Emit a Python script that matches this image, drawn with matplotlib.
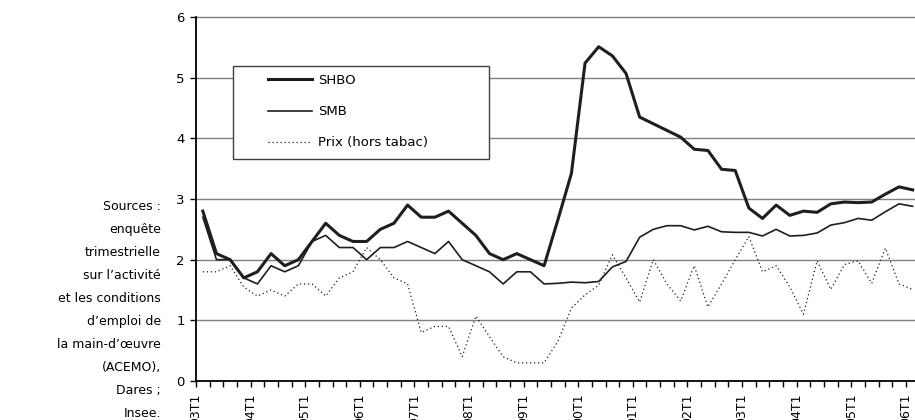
import matplotlib
matplotlib.use("Agg")
import matplotlib.pyplot as plt
from matplotlib.patches import Rectangle

# trimestres 1993T1 .. 2006T1
quarters = [f"{(93 + q // 4) % 100:02d}T{q % 4 + 1}" for q in range(53)]

shbo = [2.8, 2.1, 2.0, 1.7, 1.8, 2.1, 1.9, 2.0, 2.3, 2.6, 2.4, 2.3, 2.3,
        2.5, 2.6, 2.9, 2.7, 2.7, 2.8, 2.6, 2.4, 2.1, 2.0, 2.1, 2.0, 1.9,
        2.65, 3.42, 5.24, 5.51, 5.36, 5.07, 4.35, 4.24, 4.13, 4.02, 3.82,
        3.80, 3.49, 3.47, 2.85, 2.68, 2.90, 2.73, 2.80, 2.78, 2.92, 2.95,
        2.94, 2.95, 3.08, 3.20, 3.15]

smb = [2.7, 2.0, 2.0, 1.7, 1.6, 1.9, 1.8, 1.9, 2.3, 2.4, 2.2, 2.2, 2.0,
       2.2, 2.2, 2.3, 2.2, 2.1, 2.3, 2.0, 1.9, 1.8, 1.6, 1.8, 1.8, 1.6,
       1.61, 1.63, 1.62, 1.64, 1.88, 1.97, 2.37, 2.50, 2.56, 2.56, 2.49,
       2.55, 2.46, 2.45, 2.45, 2.39, 2.50, 2.39, 2.40, 2.44, 2.57, 2.61,
       2.68, 2.65, 2.79, 2.92, 2.88]

prix = [1.8, 1.8, 1.9, 1.55, 1.4, 1.5, 1.4, 1.6, 1.6, 1.4, 1.7, 1.8, 2.2,
        2.0, 1.7, 1.6, 0.8, 0.9, 0.9, 0.4, 1.07, 0.73, 0.4, 0.3, 0.3, 0.3,
        0.65, 1.2, 1.42, 1.58, 2.08, 1.7, 1.3, 2.0, 1.6, 1.32, 1.9, 1.22,
        1.6, 2.0, 2.38, 1.8, 1.9, 1.55, 1.1, 1.98, 1.51, 1.92, 1.98, 1.61,
        2.19, 1.6, 1.51]

source_text = ("Sources :\nenquête\ntrimestrielle\nsur l’activité\n"
               "et les conditions\nd’emploi de\nla main-d’œuvre\n(ACEMO),\n"
               "Dares ;\nInsee.")

W, H = 915, 420
fig = plt.figure(figsize=(W / 100, H / 100), dpi=100)
plt.rcParams["font.family"] = "DejaVu Sans"

x0, x1, ytop, ybot = 196, 919.5, 17, 381
ax = fig.add_axes([x0 / W, 1 - ybot / H, (x1 - x0) / W, (ybot - ytop) / H])

x = list(range(len(quarters)))
ax.plot(x, shbo, color="#1e1e1e", lw=2.2, label="SHBO", zorder=4)
ax.plot(x, smb, color="#1e1e1e", lw=1.2, label="SMB", zorder=4)
ax.plot(x, prix, color="#1e1e1e", lw=0.9, ls=(0, (1, 2.2)),
        label="Prix (hors tabac)", zorder=4)

ax.set_xlim(-0.5, len(quarters) - 0.5)
ax.set_ylim(0, 6)
ax.set_yticks(range(7))
for v in range(1, 7):
    ax.axhline(v, color="#808080", lw=1, zorder=1, clip_on=False)

ticks = [i - 0.5 for i in range(len(quarters) + 1)]
labels = [quarters[i] if i % 4 == 0 and i < len(quarters) else ""
          for i in range(len(quarters) + 1)]
ax.set_xticks(ticks)
ax.set_xticklabels(labels, rotation=90, va="top", ha="center")
ax.tick_params(axis="x", direction="out", length=4, width=1, pad=5,
               labelsize=9, colors="black")
ax.tick_params(axis="y", direction="out", length=4, width=1, pad=4,
               labelsize=9.5)

for s in ["top", "right"]:
    ax.spines[s].set_visible(False)
ax.spines["left"].set_linewidth(1.3)
ax.spines["bottom"].set_linewidth(1.3)

# cadre de la légende
bx0, by0, bx1, by1 = 233, 66, 489, 159
ax.add_patch(Rectangle((bx0 / W, 1 - by1 / H), (bx1 - bx0) / W,
                       (by1 - by0) / H, transform=fig.transFigure,
                       facecolor="white", edgecolor="#404040", lw=1,
                       zorder=3, clip_on=False))
leg = ax.legend(loc="upper left", bbox_to_anchor=(268 / W, 1 - 74 / H),
                bbox_transform=fig.transFigure, frameon=False, fontsize=9.5,
                borderpad=0, borderaxespad=0, handlelength=3.3,
                handletextpad=0.5, labelspacing=1.38)
leg.set_zorder(5)

fig.text(161 / W, 1 - 200 / H, source_text, ha="right", va="top",
         fontsize=9, linespacing=2.0)

fig.savefig("out.png", dpi=100)
